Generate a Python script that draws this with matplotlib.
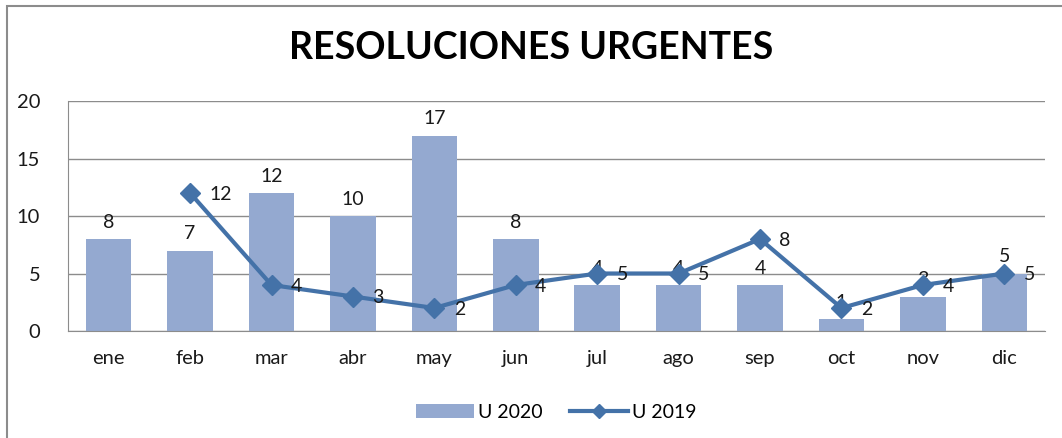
import matplotlib.pyplot as plt
from matplotlib.patches import Rectangle

meses = ['ene', 'feb', 'mar', 'abr', 'may', 'jun', 'jul', 'ago', 'sep', 'oct', 'nov', 'dic']
u2020 = [8, 7, 12, 10, 17, 8, 4, 4, 4, 1, 3, 5]
u2019 = [None, 12, 4, 3, 2, 4, 5, 5, 8, 2, 4, 5]

plt.rcParams['font.family'] = ['Lato', 'DejaVu Sans']

fig = plt.figure(figsize=(10.62, 4.38), dpi=100)
ax = fig.add_axes([0.064, 0.2443, 0.92, 0.525])

# borde del grafico
fig.patches.append(Rectangle((7 / 1062, -0.1), 1.2, 1 - 6 / 438 + 0.1, transform=fig.transFigure,
                             fill=False, edgecolor='#8c8c8c', linewidth=1.5))

x = list(range(len(meses)))
barras = ax.bar(x, u2020, width=0.56, color='#94a9d0', label='U 2020', zorder=2)
for xi, v in zip(x, u2020):
    ax.annotate(str(v), (xi, v), xytext=(0, 6), textcoords='offset points',
                ha='center', va='bottom', fontsize=14, color='#1a1a1a')

xs = [xi for xi, v in zip(x, u2019) if v is not None]
ys = [v for v in u2019 if v is not None]
linea, = ax.plot(xs, ys, color='#4472a8', linewidth=3, marker='D', markersize=10,
                 label='U 2019', zorder=3)
for xi, v in zip(xs, ys):
    ax.annotate(str(v), (xi, v), xytext=(14, -1), textcoords='offset points',
                ha='left', va='center', fontsize=14, color='#1a1a1a')

ax.set_xlim(-0.5, 11.5)
ax.set_ylim(0, 20)
ax.set_yticks([0, 5, 10, 15, 20])
ax.set_xticks(x)
ax.set_xticklabels(meses)
ax.tick_params(axis='both', labelsize=14.5, colors='#1a1a1a', length=0, pad=14)
ax.tick_params(axis='y', pad=20)
ax.grid(axis='y', color='#8c8c8c', linewidth=1, zorder=0)
for s in ['top', 'right']:
    ax.spines[s].set_visible(False)
for s in ['left', 'bottom']:
    ax.spines[s].set_color('#8c8c8c')

fig.text(0.5, 0.89, 'RESOLUCIONES URGENTES', ha='center', va='center',
         fontsize=27, fontweight='bold', color='black')

ax.legend([barras, linea], ['U 2020', 'U 2019'], loc='upper center',
          bbox_to_anchor=(0.5, -0.24), ncol=2, frameon=False, markerscale=0.7,
          fontsize=14, handlelength=3, columnspacing=1.4, handletextpad=0.2)

fig.savefig('out.png', dpi=100)
